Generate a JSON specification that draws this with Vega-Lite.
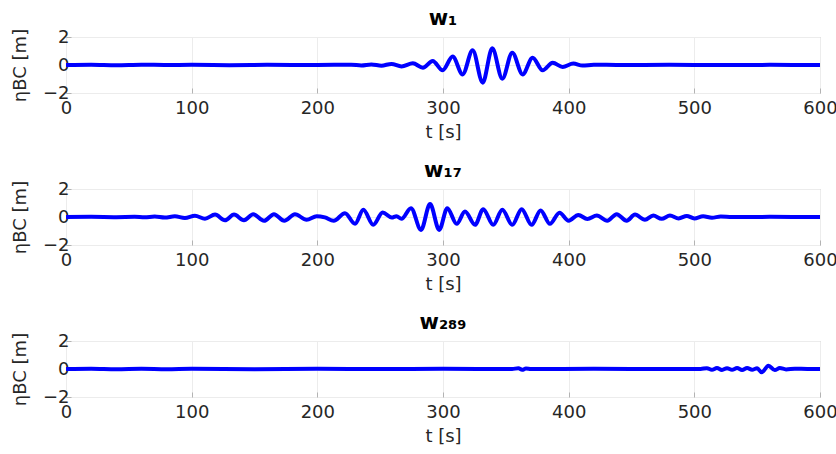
{
  "$schema": "https://vega.github.io/schema/vega-lite/v6.json",
  "padding": {"left": 10, "top": 7, "right": 0, "bottom": 2},
  "background": "white",
  "spacing": 17,
  "datasets": {
    "w1": [
      {"t": 0, "v": 0}, {"t": 20, "v": 0.02}, {"t": 40, "v": -0.02}, {"t": 60, "v": 0.02}, {"t": 80, "v": 0},
      {"t": 100, "v": 0.01}, {"t": 130, "v": -0.01}, {"t": 160, "v": 0.01}, {"t": 200, "v": 0}, {"t": 227, "v": 0.02},
      {"t": 235, "v": -0.03}, {"t": 243, "v": 0.04}, {"t": 251, "v": -0.05}, {"t": 259, "v": 0.08}, {"t": 267, "v": -0.1},
      {"t": 276, "v": 0.12}, {"t": 284, "v": -0.19}, {"t": 291.8, "v": 0.29}, {"t": 299.7, "v": -0.38}, {"t": 307.7, "v": 0.6},
      {"t": 315.6, "v": -0.67}, {"t": 323.6, "v": 1.05}, {"t": 331.6, "v": -1.26}, {"t": 339.2, "v": 1.19}, {"t": 347.2, "v": -0.98},
      {"t": 355.1, "v": 0.88}, {"t": 363.4, "v": -0.67}, {"t": 371.3, "v": 0.52}, {"t": 379.3, "v": -0.38}, {"t": 387.3, "v": 0.16},
      {"t": 395.2, "v": -0.14}, {"t": 403.7, "v": 0.1}, {"t": 411, "v": -0.04}, {"t": 420, "v": 0.02}, {"t": 440, "v": 0},
      {"t": 480, "v": 0.01}, {"t": 520, "v": 0}, {"t": 560, "v": 0.01}, {"t": 600, "v": 0}
    ],
    "w17": [
      {"t": 0, "v": 0}, {"t": 20, "v": 0.01}, {"t": 40, "v": -0.01}, {"t": 54.6, "v": 0.01}, {"t": 62.6, "v": -0.02},
      {"t": 70.6, "v": 0.03}, {"t": 78.6, "v": -0.04}, {"t": 86.6, "v": 0.05}, {"t": 94.6, "v": -0.07}, {"t": 102.6, "v": 0.09},
      {"t": 110.6, "v": -0.12}, {"t": 118.6, "v": 0.17}, {"t": 126.5, "v": -0.23}, {"t": 133.7, "v": 0.17}, {"t": 141.6, "v": -0.23},
      {"t": 149, "v": 0.2}, {"t": 157.6, "v": -0.27}, {"t": 165.5, "v": 0.2}, {"t": 173.7, "v": -0.27}, {"t": 182.2, "v": 0.2},
      {"t": 191.5, "v": -0.2}, {"t": 199.5, "v": 0.06}, {"t": 206, "v": -0.03}, {"t": 213, "v": -0.27}, {"t": 222, "v": 0.27},
      {"t": 230, "v": -0.49}, {"t": 236.6, "v": 0.52}, {"t": 244.5, "v": -0.56}, {"t": 252, "v": 0.32}, {"t": 259.2, "v": -0.04},
      {"t": 263, "v": 0.06}, {"t": 267, "v": -0.13}, {"t": 274.5, "v": 0.63}, {"t": 282.5, "v": -0.92}, {"t": 289.7, "v": 0.92},
      {"t": 297, "v": -0.92}, {"t": 303.4, "v": 0.63}, {"t": 310.9, "v": -0.49}, {"t": 317.5, "v": 0.39}, {"t": 325.5, "v": -0.56},
      {"t": 332, "v": 0.56}, {"t": 340, "v": -0.56}, {"t": 347.2, "v": 0.52}, {"t": 355.1, "v": -0.56}, {"t": 362.6, "v": 0.56},
      {"t": 370.5, "v": -0.56}, {"t": 377.7, "v": 0.47}, {"t": 385.1, "v": -0.49}, {"t": 392.7, "v": 0.3}, {"t": 400, "v": -0.27},
      {"t": 407.7, "v": 0.15}, {"t": 414.9, "v": -0.15}, {"t": 422.4, "v": 0.1}, {"t": 430.7, "v": -0.27}, {"t": 438.2, "v": 0.2},
      {"t": 446.2, "v": -0.27}, {"t": 452.8, "v": 0.17}, {"t": 460.7, "v": -0.2}, {"t": 467.3, "v": 0.1}, {"t": 474, "v": -0.13},
      {"t": 480.6, "v": 0.1}, {"t": 487.5, "v": -0.1}, {"t": 494, "v": 0.08}, {"t": 500, "v": -0.1}, {"t": 507, "v": 0.05},
      {"t": 514, "v": -0.05}, {"t": 521, "v": 0.03}, {"t": 530, "v": 0}, {"t": 560, "v": 0.01}, {"t": 600, "v": 0}
    ],
    "w289": [
      {"t": 0, "v": 0}, {"t": 20, "v": 0.02}, {"t": 40, "v": -0.02}, {"t": 60, "v": 0.01}, {"t": 80, "v": -0.02},
      {"t": 100, "v": 0.01}, {"t": 150, "v": -0.01}, {"t": 200, "v": 0.01}, {"t": 250, "v": 0}, {"t": 300, "v": 0.01},
      {"t": 355, "v": 0}, {"t": 360, "v": 0.05}, {"t": 363, "v": -0.06}, {"t": 366, "v": 0.04}, {"t": 370, "v": 0},
      {"t": 420, "v": 0.01}, {"t": 480, "v": 0}, {"t": 505, "v": 0}, {"t": 510, "v": 0.06}, {"t": 514, "v": -0.06},
      {"t": 518, "v": 0.07}, {"t": 522, "v": -0.07}, {"t": 526, "v": 0.06}, {"t": 530, "v": -0.06}, {"t": 534, "v": 0.07},
      {"t": 538, "v": -0.07}, {"t": 542, "v": 0.07}, {"t": 546, "v": -0.05}, {"t": 550, "v": 0.05}, {"t": 553.6, "v": -0.24},
      {"t": 559, "v": 0.24}, {"t": 564, "v": -0.08}, {"t": 568, "v": 0.07}, {"t": 573, "v": -0.03}, {"t": 580, "v": 0.02},
      {"t": 590, "v": 0}, {"t": 600, "v": 0}
    ]
  },
  "config": {
    "font": "DejaVu Sans",
    "view": {"stroke": "#b3b3b3", "strokeWidth": 1},
    "axis": {
      "labelFont": "DejaVu Sans", "labelFontSize": 18, "labelColor": "#262626", "labelFlush": false,
      "titleFont": "DejaVu Sans", "titleFontSize": 18, "titleColor": "#262626", "titleFontWeight": "normal",
      "domain": false, "tickColor": "#b3b3b3", "tickSize": -5,
      "grid": true, "gridColor": "#ececec", "gridWidth": 1
    },
    "title": {"font": "DejaVu Sans", "fontSize": 21, "fontWeight": "bold", "color": "#000000", "offset": -1},
    "line": {"color": "#0000ff", "strokeWidth": 4, "interpolate": "monotone"}
  },
  "vconcat": [
    {
      "title": "w₁",
      "width": 754, "height": 56,
      "data": {"name": "w1"},
      "mark": "line",
      "encoding": {
        "x": {"field": "t", "type": "quantitative", "scale": {"domain": [0, 600], "nice": false}, "axis": {"values": [0,100,200,300,400,500,600], "title": "t [s]", "labelPadding": 11, "titlePadding": 6}},
        "y": {"field": "v", "type": "quantitative", "scale": {"domain": [-2, 2], "nice": false}, "axis": {"values": [-2,0,2], "title": "ηBC [m]", "labelPadding": 2, "titlePadding": 13}}
      }
    },
    {
      "title": "w₁₇",
      "width": 754, "height": 56,
      "data": {"name": "w17"},
      "mark": "line",
      "encoding": {
        "x": {"field": "t", "type": "quantitative", "scale": {"domain": [0, 600], "nice": false}, "axis": {"values": [0,100,200,300,400,500,600], "title": "t [s]", "labelPadding": 11, "titlePadding": 6}},
        "y": {"field": "v", "type": "quantitative", "scale": {"domain": [-2, 2], "nice": false}, "axis": {"values": [-2,0,2], "title": "ηBC [m]", "labelPadding": 2, "titlePadding": 13}}
      }
    },
    {
      "title": "w₂₈₉",
      "width": 754, "height": 56,
      "data": {"name": "w289"},
      "mark": "line",
      "encoding": {
        "x": {"field": "t", "type": "quantitative", "scale": {"domain": [0, 600], "nice": false}, "axis": {"values": [0,100,200,300,400,500,600], "title": "t [s]", "labelPadding": 11, "titlePadding": 6}},
        "y": {"field": "v", "type": "quantitative", "scale": {"domain": [-2, 2], "nice": false}, "axis": {"values": [-2,0,2], "title": "ηBC [m]", "labelPadding": 2, "titlePadding": 13}}
      }
    }
  ]
}
